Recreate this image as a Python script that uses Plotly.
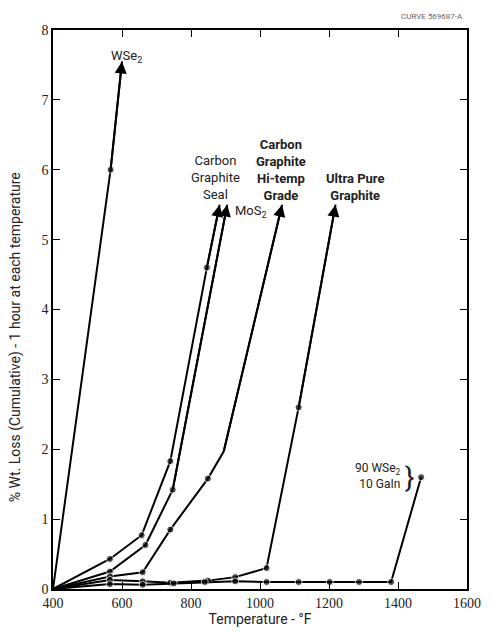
import plotly.graph_objects as go

# ---- data ----
wse2_x = [400, 567, 600]
wse2_y = [0, 6.0, 7.55]
wse2_m = [0, 1, 0]

seal_x = [400, 565, 657, 740, 846, 883]
seal_y = [0, 0.43, 0.77, 1.83, 4.6, 5.5]
seal_m = [0, 1, 1, 1, 1, 0]

mos2_x = [400, 565, 668, 747, 905]
mos2_y = [0, 0.25, 0.63, 1.42, 5.5]
mos2_m = [0, 1, 1, 1, 0]

hitemp_x = [400, 565, 660, 740, 849, 895, 1064]
hitemp_y = [0, 0.18, 0.24, 0.85, 1.58, 1.97, 5.5]
hitemp_m = [0, 1, 1, 1, 1, 0, 0]

upg_x = [400, 565, 660, 740, 849, 928, 1019, 1112, 1219]
upg_y = [0, 0.13, 0.11, 0.09, 0.12, 0.17, 0.3, 2.6, 5.5]
upg_m = [0, 1, 1, 1, 1, 1, 1, 1, 0]

gain_x = [400, 565, 660, 750, 840, 928, 1019, 1112, 1202, 1287, 1380, 1467]
gain_y = [0, 0.07, 0.06, 0.08, 0.1, 0.11, 0.1, 0.1, 0.1, 0.1, 0.1, 1.6]
gain_m = [0, 1, 1, 1, 1, 1, 1, 1, 1, 1, 1, 1]

x_ticks = [400, 600, 800, 1000, 1200, 1400, 1600]
y_ticks = [0, 1, 2, 3, 4, 5, 6, 7, 8]

FONT = "Roboto, Liberation Sans, sans-serif"
TICKFONT = "Liberation Serif, serif"
INK = "#222"

fig = go.Figure()
series = [
    (wse2_x, wse2_y, wse2_m, True),
    (seal_x, seal_y, seal_m, True),
    (mos2_x, mos2_y, mos2_m, True),
    (hitemp_x, hitemp_y, hitemp_m, True),
    (upg_x, upg_y, upg_m, True),
    (gain_x, gain_y, gain_m, False),
]
for xs, ys, ms, arrow in series:
    fig.add_trace(go.Scatter(
        x=xs, y=ys, mode="lines+markers",
        line=dict(color="black", width=2),
        marker=dict(color="black", size=[7 * m for m in ms]),
        showlegend=False, hoverinfo="skip"))
    if arrow:
        fig.add_annotation(x=xs[-1], y=ys[-1], ax=xs[-2], ay=ys[-2],
                           xref="x", yref="y", axref="x", ayref="y",
                           showarrow=True, arrowhead=2, arrowsize=1.2,
                           arrowwidth=2, arrowcolor="black", text="")

fig.update_layout(
    width=493, height=634,
    margin=dict(l=53, r=15, t=30, b=44),
    paper_bgcolor="white", plot_bgcolor="white",
    font=dict(family=FONT, size=14, color=INK),
)

def pxx(px):
    return 400 + (px - 53) / (478 - 53) * 1200

def pxy(py):
    return (590 - py) / 70.0

ann = [
    (128, 57, "WSe<sub>2</sub>"),
    (220, 178, "Carbon<br>Graphite<br>Seal"),
    (256, 212, "MoS<sub>2</sub>"),
    (287, 170, "<b>Carbon<br>Graphite<br>Hi-temp<br>Grade</b>"),
    (363, 187, "<b>Ultra Pure<br>Graphite</b>"),
]
for px, py, t in ann:
    fig.add_annotation(x=pxx(px), y=pxy(py), xref="x", yref="y", text=t,
                       showarrow=False, font=dict(family=FONT, size=13, color=INK),
                       align="center")

fig.add_annotation(x=pxx(412), y=pxy(477), xref="x", yref="y",
                   text="90 WSe<sub>2</sub><br>10 GaIn", showarrow=False,
                   xanchor="right", align="right",
                   font=dict(family=FONT, size=12, color=INK))
fig.add_annotation(x=pxx(412), y=pxy(478), xref="x", yref="y",
                   text="}", showarrow=False, xanchor="left",
                   font=dict(family=FONT, size=28, color=INK))

fig.add_annotation(xref="paper", yref="paper", x=-0.09, y=0.45,
                   xanchor="center", yanchor="middle",
                   text="% Wt. Loss (Cumulative) - 1 hour at each temperature",
                   textangle=-90, showarrow=False,
                   font=dict(family=FONT, size=14, color=INK))

fig.add_annotation(xref="paper", yref="paper", x=0.995, y=1.0, yshift=20,
                   xanchor="right", text="CURVE 569687-A", showarrow=False,
                   font=dict(family=FONT, size=8, color="#666"))

fig.update_xaxes(range=[400, 1600], tickvals=x_ticks, ticks="inside", ticklen=7,
                 tickcolor="black", showline=True, linecolor="black", linewidth=1.5,
                 mirror="ticks", showgrid=False, zeroline=False,
                 title=dict(text="Temperature - °F", font=dict(family=FONT, size=14, color=INK), standoff=2),
                 tickfont=dict(family=TICKFONT, size=14, color=INK))
fig.update_yaxes(range=[0, 8], tickvals=y_ticks, ticks="inside", ticklen=7,
                 tickcolor="black", showline=True, linecolor="black", linewidth=1.5,
                 mirror="ticks", showgrid=False, zeroline=False,
                 tickfont=dict(family=TICKFONT, size=14, color=INK))

fig.write_html("out.html", config={"displayModeBar": False},
               post_script="document.body.style.margin='0';")
